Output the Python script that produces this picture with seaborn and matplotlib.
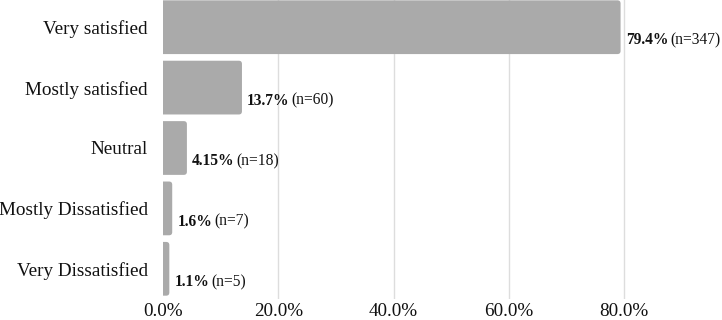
import matplotlib
matplotlib.use("Agg")
import matplotlib.pyplot as plt
import seaborn as sns
import pandas as pd
from matplotlib.patches import FancyBboxPatch

categories = ["Very satisfied", "Mostly satisfied", "Neutral", "Mostly Dissatisfied", "Very Dissatisfied"]
percents = [79.4, 13.7, 4.15, 1.6, 1.1]
pct_labels = ["79.4%", "13.7%", "4.15%", "1.6%", "1.1%"]
counts = [347, 60, 18, 7, 5]
xticks = [0, 20, 40, 60, 80]
xtick_labels = ["0.0%", "20.0%", "40.0%", "60.0%", "80.0%"]

sns.set_theme(style="white")
plt.rcParams['font.family'] = ['Liberation Serif', 'DejaVu Serif']

df = pd.DataFrame({"category": categories, "percent": percents})

fig = plt.figure(figsize=(7.22, 3.2), dpi=100)
ax = fig.add_axes([163 / 722, 21 / 320, 1 - 163 / 722, 302 / 320])
sns.barplot(data=df, x="percent", y="category", color="#aaaaaa", saturation=1,
            width=0.89, ax=ax, zorder=3)

ax.set_xlim(0, 97)
ax.set_ylim(4.5, -0.5)

# rounded bars
px_x = (722 - 163) / 97.0
px_y = 302 / 5.0
r = 0.55
for p in list(ax.patches):
    x, y = p.get_x(), p.get_y()
    w, h = p.get_width(), p.get_height()
    fb = FancyBboxPatch((x - 1.0, y), w + 1.0, h,
                        boxstyle=f"round,pad=0,rounding_size={r}",
                        mutation_aspect=px_x / px_y,
                        facecolor=p.get_facecolor(), edgecolor="none", zorder=3,
                        clip_on=True)
    p.remove()
    ax.add_patch(fb)

ax.set_xticks(xticks)
ax.set_xticklabels(xtick_labels, fontsize=13.8, color="#111111")
ax.tick_params(axis="y", labelsize=13.8, colors="#111111", pad=11, length=0)
ax.tick_params(axis="x", pad=3, length=0)
ax.set_xlabel("")
ax.set_ylabel("")
for s in ax.spines.values():
    s.set_visible(False)
for xv in xticks[1:]:
    ax.axvline(xv, color="#dddddd", lw=1, zorder=1)

for i, (v, pl, n) in enumerate(zip(percents, pct_labels, counts)):
    t = ax.text(v + 0.9, i + 0.22, pl, fontsize=11.2, fontweight="bold",
                va="center", ha="left", color="#111111", zorder=4)
    ax.annotate(f"(n={n})", xy=(1, 0.5), xycoords=t, xytext=(1.5, 0),
                textcoords="offset points", va="center", ha="left",
                fontsize=11.2, color="#111111")

fig.savefig("out.png", dpi=100)
